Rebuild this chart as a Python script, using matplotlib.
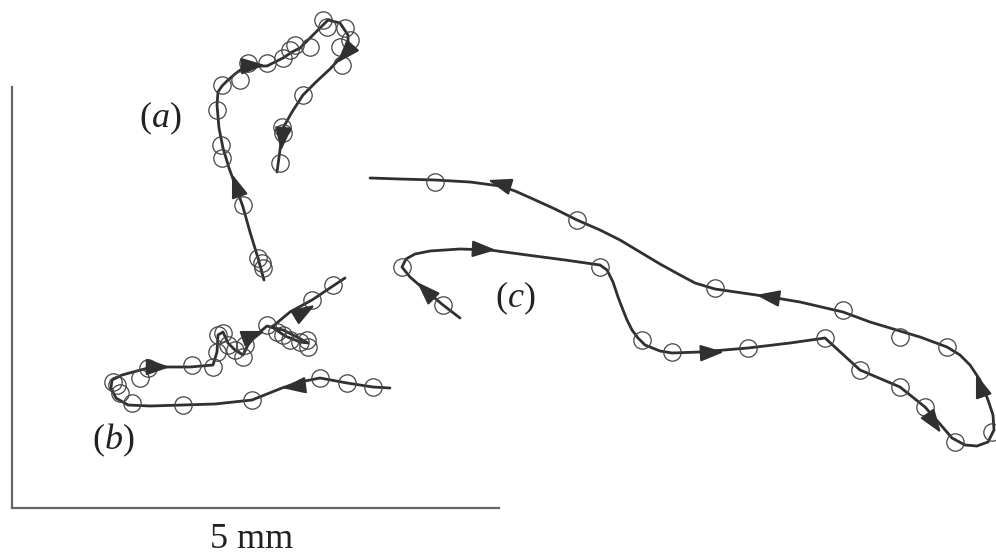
import numpy as np
import matplotlib
matplotlib.use('Agg')
import matplotlib.pyplot as plt

plt.rcParams['font.family'] = ['Liberation Serif', 'DejaVu Serif']
plt.rcParams['mathtext.fontset'] = 'custom'
plt.rcParams['mathtext.rm'] = 'Liberation Serif'
plt.rcParams['mathtext.it'] = 'Liberation Serif:italic'

# Trayectorias (coordenadas en px de la figura, y hacia abajo)
a_x = [264, 258, 250, 243, 236, 229, 223, 219, 217, 218, 222, 227, 235, 243, 255, 267, 283, 292, 300, 312, 323, 328, 340, 348, 348, 343, 330, 316, 303, 292, 283, 280, 277]
a_y = [280, 258, 232, 207, 187, 168, 148, 128, 105, 92, 86, 81, 74, 68, 66, 66, 58, 52, 48, 36, 25, 20, 23, 35, 48, 55, 69, 82, 95, 112, 128, 150, 172]
a_cx = [262, 258, 263, 243, 222, 221, 217, 222, 240, 248, 267, 283, 290, 295, 310, 323, 327, 345, 350, 340, 342, 303, 282, 283, 280]
a_cy = [263, 258, 268, 205, 158, 145, 110, 85, 80, 63, 63, 58, 50, 45, 47, 20, 27, 28, 40, 47, 65, 95, 127, 133, 163]

b_x = [390, 373, 347, 320, 300, 282, 252, 215, 183, 150, 128, 116, 111, 112, 122, 148, 165, 190, 213, 217, 218, 223, 228, 235, 243, 248, 255, 267, 283, 295, 308, 300, 285, 272, 290, 312, 333, 345]
b_y = [388, 387, 383, 378, 382, 388, 400, 404, 405, 406, 405, 398, 388, 380, 375, 368, 367, 367, 365, 352, 335, 332, 343, 350, 355, 345, 336, 326, 330, 336, 343, 342, 336, 327, 312, 300, 286, 278]
b_cx = [373, 347, 320, 252, 183, 132, 120, 117, 113, 140, 148, 192, 213, 217, 218, 223, 228, 235, 245, 243, 267, 277, 283, 290, 300, 307, 308, 312, 333]
b_cy = [387, 383, 378, 400, 405, 403, 393, 385, 382, 378, 368, 365, 367, 352, 335, 333, 345, 350, 345, 357, 325, 332, 335, 340, 342, 340, 347, 300, 285]

c_x = [460, 443, 425, 410, 402, 406, 415, 430, 460, 490, 527, 565, 600, 607, 613, 618, 623, 627, 632, 638, 645, 660, 672, 700, 748, 790, 825, 860, 900, 925, 940, 952, 965, 977, 988, 994, 993, 988, 980, 970, 960, 947, 920, 900, 870, 843, 800, 770, 715, 695, 680, 660, 640, 620, 600, 577, 555, 533, 515, 500, 470, 435, 400, 370]
c_y = [318, 305, 290, 277, 267, 259, 254, 251, 249, 250, 255, 260, 265, 270, 282, 297, 310, 320, 330, 338, 345, 351, 353, 352, 348, 343, 338, 370, 387, 407, 424, 438, 445, 446, 442, 430, 415, 400, 380, 365, 355, 347, 337, 331, 322, 312, 302, 297, 289, 283, 275, 264, 252, 240, 230, 220, 209, 199, 191, 186, 182, 180, 179, 178]
c_cx = [443, 402, 600, 642, 672, 748, 825, 860, 900, 925, 955, 992, 947, 900, 843, 715, 577, 435]
c_cy = [305, 267, 267, 340, 352, 348, 338, 370, 387, 407, 442, 432, 347, 337, 310, 288, 220, 182]

# Flechas: punta (x, y) y direccion (dx, dy)
flechas = [
    (232, 174, -0.35, -1), (265, 65, 1, -0.05), (337, 63, -0.9, 1), (281, 151, -0.1, 1),
    (282, 388, -1, 0.12), (170, 367, 1, 0), (265, 331, 1, -0.35), (315, 305, 1, -0.6),
    (417, 282, -1, -1), (496, 250, 1, 0.05), (724, 352, 1, -0.05), (941, 433, 0.7, 1),
    (976, 374, -0.35, -1), (756, 295, -1, -0.15), (488, 180, -1, -0.3),
]

fig = plt.figure(figsize=(9.96, 5.57), dpi=100)
ax = fig.add_axes([0, 0, 1, 1])
ax.set_xlim(0, 996)
ax.set_ylim(557, 0)

col = '#303030'
for x, y, cx, cy in [(a_x, a_y, a_cx, a_cy), (b_x, b_y, b_cx, b_cy), (c_x, c_y, c_cx, c_cy)]:
    ax.plot(x, y, color=col, lw=2.0, solid_joinstyle='round', solid_capstyle='round')
    ax.plot(cx, cy, 'o', ms=12.5, mfc='none', mec='#444444', mew=0.9)

for x, y, dx, dy in flechas:
    n = np.hypot(dx, dy)
    ax.annotate('', xy=(x, y), xytext=(x - 14 * dx / n, y - 14 * dy / n),
                arrowprops=dict(arrowstyle='-|>,head_length=0.85,head_width=0.3',
                                color=col, lw=1.5, mutation_scale=17, shrinkA=0, shrinkB=0))

ax.text(160, 118, r'($\mathit{a}$)', fontsize=26, ha='center', va='center', color='#222222')
ax.text(113, 440, r'($\mathit{b}$)', fontsize=26, ha='center', va='center', color='#222222')
ax.text(515, 298, r'($\mathit{c}$)', fontsize=26, ha='center', va='center', color='#222222')
ax.text(252, 540, '5 mm', fontsize=26, ha='center', va='center', color='#222222')

# barra de escala
for s in ['top', 'right']:
    ax.spines[s].set_visible(False)
ax.spines['left'].set_position(('data', 12))
ax.spines['left'].set_bounds(87, 508)
ax.spines['bottom'].set_position(('data', 508))
ax.spines['bottom'].set_bounds(12, 499)
for s in ['left', 'bottom']:
    ax.spines[s].set_color('#666666')
    ax.spines[s].set_linewidth(1.6)
ax.set_xticks([])
ax.set_yticks([])
ax.patch.set_visible(False)

plt.savefig('out.png', dpi=100)
